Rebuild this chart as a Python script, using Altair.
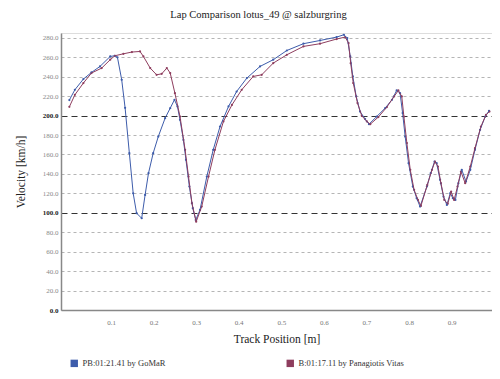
import altair as alt
import pandas as pd

# Series
pb_x = [0.002, 0.015, 0.035, 0.054, 0.074, 0.098, 0.109, 0.115, 0.125, 0.133, 0.143, 0.152, 0.160, 0.172,
        0.180, 0.188, 0.199, 0.211, 0.227, 0.239, 0.249, 0.256, 0.262, 0.270, 0.276, 0.284, 0.292, 0.299,
        0.309, 0.325, 0.340, 0.356, 0.376, 0.395, 0.419, 0.450, 0.481, 0.513, 0.552, 0.591, 0.630, 0.647,
        0.655, 0.662, 0.668, 0.676, 0.685, 0.697, 0.706, 0.724, 0.744, 0.760, 0.771, 0.779, 0.785, 0.791,
        0.799, 0.809, 0.818, 0.826, 0.842, 0.851, 0.860, 0.865, 0.873, 0.881, 0.889, 0.897, 0.903, 0.909,
        0.916, 0.924, 0.934, 0.944, 0.955, 0.967, 0.979, 0.988]
pb_v = [216, 226.6, 237.6, 244.4, 250.6, 260.9, 261.6, 260, 236.9, 208, 161.4, 120, 99.6, 94.4,
        118.4, 140.8, 161.4, 178.5, 197.4, 207.7, 216.3, 209.4, 195.7, 175, 154.5, 127, 104.7, 92.7,
        103, 137.3, 164.8, 188.8, 209.4, 224.8, 238.6, 250.6, 257.5, 267, 274, 277.3, 280.8, 283.2,
        279.8, 260.9, 240.3, 219.7, 204.2, 196.4, 191.2, 199, 207.7, 216.3, 225.9, 223.1, 202.6, 178.5,
        151, 127, 115, 106.4, 127, 140.8, 152.7, 151, 133.9, 116.7, 108.1, 120.2, 115, 113.3,
        130.5, 144.2, 132.1, 144.2, 164.8, 185.4, 199, 205]

b_x = [0.002, 0.015, 0.035, 0.054, 0.078, 0.098, 0.109, 0.129, 0.149, 0.168, 0.176, 0.192, 0.207, 0.219,
       0.231, 0.239, 0.250, 0.262, 0.274, 0.282, 0.290, 0.300, 0.313, 0.329, 0.344, 0.364, 0.384, 0.407,
       0.434, 0.454, 0.481, 0.513, 0.552, 0.591, 0.630, 0.650, 0.658, 0.663, 0.669, 0.679, 0.689, 0.701,
       0.709, 0.728, 0.748, 0.765, 0.775, 0.783, 0.788, 0.795, 0.803, 0.812, 0.821, 0.828, 0.843, 0.854,
       0.861, 0.868, 0.875, 0.883, 0.891, 0.899, 0.906, 0.914, 0.922, 0.932, 0.944, 0.955, 0.969, 0.981,
       0.989]
b_v = [209, 221.4, 233.5, 243.8, 248.9, 257.5, 261.6, 263.6, 265.4, 266, 260.9, 248.9, 242, 243,
       248.9, 243.8, 223.1, 199, 164.8, 137.3, 109.9, 90.9, 106.4, 137.3, 164.8, 194, 211, 226.6,
       240.3, 242, 254, 262.6, 271.2, 274, 278.8, 280.8, 274.6, 254, 233.5, 212.9, 199.8, 194,
       191.2, 198.5, 208.8, 219.7, 225.9, 219.7, 199, 171.7, 144.2, 123.6, 113.3, 107.1, 128.7, 144.2,
       152.7, 147.6, 130.5, 113.3, 109.2, 121.8, 113.3, 127, 142.4, 130.5, 147.6, 166.5, 188.8, 200.8,
       204.2]

series_names = ["PB:01:21.41 by GoMaR", "B:01:17.11 by Panagiotis Vitas"]
series_colors = ["#3d5cab", "#8e3d5e"]
x_ticks = [0.1, 0.2, 0.3, 0.4, 0.5, 0.6, 0.7, 0.8, 0.9]
y_ticks = [0, 20, 40, 60, 80, 100, 120, 140, 160, 180, 200, 220, 240, 260, 280]

df = pd.concat([
    pd.DataFrame({"pos": pb_x, "vel": pb_v, "driver": series_names[0]}),
    pd.DataFrame({"pos": b_x, "vel": b_v, "driver": series_names[1]}),
])

FONT = "Liberation Serif"
major = "datum.value === 100 || datum.value === 200"

x_enc = alt.X(
    "pos:Q",
    title="Track Position [m]",
    scale=alt.Scale(domain=[-0.0176, 0.995], nice=False, zero=False),
    axis=alt.Axis(values=x_ticks, format=".1f", grid=False, ticks=False,
                  labelFont=FONT, labelFontSize=7, labelColor="#777777", labelPadding=8,
                  domainColor="#888888", domainWidth=1.5,
                  titleFont=FONT, titleFontSize=11.5, titleFontWeight="normal",
                  titleColor="#222222", titlePadding=8),
)
y_enc = alt.Y(
    "vel:Q",
    title="Velocity [km/h]",
    scale=alt.Scale(domain=[0, 285], nice=False, zero=True),
    axis=alt.Axis(values=y_ticks, format=".1f", ticks=False,
                  labelFont=FONT, labelFontSize=7, labelPadding=3,
                  labelColor={"condition": {"test": "datum.value % 100 === 0", "value": "#222222"},
                              "value": "#888888"},
                  labelFontWeight={"condition": {"test": "datum.value % 100 === 0", "value": "bold"},
                                   "value": "normal"},
                  gridColor={"condition": {"test": major, "value": "#333333"}, "value": "#b5b5b5"},
                  gridDash={"condition": {"test": major, "value": [6, 4]}, "value": [3, 3]},
                  gridWidth=1,
                  domainColor="#888888", domainWidth=1.5,
                  titleFont=FONT, titleFontSize=11.5, titleFontWeight="normal",
                  titleColor="#222222", titlePadding=16),
)
color_scale = alt.Scale(domain=series_names, range=series_colors)
legend = alt.Legend(orient="none", legendX=9, legendY=326, direction="horizontal",
                    title=None, symbolType="square", symbolSize=55,
                    symbolStrokeWidth=0, symbolOpacity=1,
                    labelFont=FONT, labelFontSize=8.5, labelColor="#333333",
                    columnPadding=120, labelLimit=300)

points = alt.Chart(df).mark_point(filled=True, size=5, opacity=1).encode(
    x=x_enc, y=y_enc,
    color=alt.Color("driver:N", scale=color_scale, legend=legend),
)
lines = alt.Chart(df).mark_line(strokeWidth=1).encode(
    x=x_enc, y=y_enc,
    color=alt.Color("driver:N", scale=color_scale, legend=legend),
)

chart = alt.layer(points, lines).properties(
    width=431, height=277,
    title=alt.TitleParams("Lap Comparison lotus_49 @ salzburgring", font=FONT, fontSize=10.5,
                          fontWeight="normal", color="#222222", dx=-18, offset=12),
    autosize=alt.AutoSizeParams(type="none"),
    padding={"left": 53, "top": 25, "right": 0, "bottom": 60},
).configure_view(fill="#f2f2f2", stroke=None).configure(background="white")

chart.save("out.html", embed_options={"renderer": "svg", "actions": False})
